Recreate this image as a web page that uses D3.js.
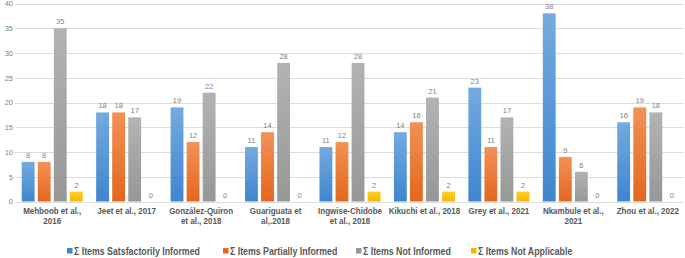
<!DOCTYPE html>
<html><head><meta charset="utf-8">
<script src="https://cdn.jsdelivr.net/npm/d3@7"></script>
<style>body{margin:0;background:#fff}svg{display:block}</style>
</head><body>
<svg id="c" width="685" height="258"></svg>
<script>
const categories = [["Mehboob et al.,","2016"],["Jeet et al., 2017"],["González-Quiron","et al., 2018"],["Guariguata et","al,.2018"],["Ingwise-Chidobe","et al., 2018"],["Kikuchi et al., 2018"],["Grey et al., 2021"],["Nkambule et al.,","2021"],["Zhou et al., 2022"]];
const seriesNames = ["Σ Items Satsfactorily Informed","Σ Items Partially Informed","Σ Items Not Informed","Σ Items Not Applicable"];
const satisfactory = [8,18,19,11,11,14,23,38,16];
const partial = [8,18,12,14,12,16,11,9,19];
const notInformed = [35,17,22,28,28,21,17,6,18];
const notApplicable = [2,0,0,0,2,2,2,0,0];
const yTicks = [0,5,10,15,20,25,30,35,40];
const colors = [["#74aadf","#3f86cf"],["#f39156","#e3671c"],["#b3b3b3","#979797"],["#ffcd2a","#f5b800"]];

const series = [satisfactory, partial, notInformed, notApplicable];
const svg = d3.select("#c");
const font = "'Liberation Sans', Arial, sans-serif";

const defs = svg.append("defs");
colors.forEach((c,i)=>{
  const g = defs.append("linearGradient").attr("id","g"+i).attr("x1",0).attr("y1",0).attr("x2",0).attr("y2",1);
  g.append("stop").attr("offset","0%").attr("stop-color",c[0]);
  g.append("stop").attr("offset","100%").attr("stop-color",c[1]);
});

const y = d3.scaleLinear().domain([0,40]).range([201.5,3.5]);
const x0 = d3.scaleBand().domain(d3.range(categories.length)).range([15,685]).paddingInner(0.18).paddingOuter(0.09);
const x1 = d3.scaleBand().domain(d3.range(4)).range([0,x0.bandwidth()]).paddingInner(0.2);

svg.append("g").selectAll("line").data(yTicks).join("line")
  .attr("x1",15).attr("x2",684).attr("y1",d=>Math.round(y(d))+0.5).attr("y2",d=>Math.round(y(d))+0.5)
  .attr("stroke","#dcdcdc").attr("stroke-width",1);

const yAxis = svg.append("g").attr("transform","translate(13,0)")
  .call(d3.axisLeft(y).tickValues(yTicks).tickSize(0).tickPadding(0));
yAxis.select(".domain").remove();
yAxis.selectAll("text").attr("font-family",font).attr("font-size",7.5).attr("fill","#7f7f7f");

const groups = svg.append("g").selectAll("g").data(categories).join("g")
  .attr("transform",(d,i)=>`translate(${x0(i)},0)`);

groups.each(function(cat,ci){
  const g = d3.select(this);
  series.forEach((s,si)=>{
    const v = s[ci];
    if(v>0){
      g.append("rect").attr("x",x1(si)).attr("width",x1.bandwidth())
        .attr("y",y(v)).attr("height",y(0)-y(v)).attr("fill",`url(#g${si})`);
    }
    g.append("text").attr("x",x1(si)+x1.bandwidth()/2).attr("y",y(v)-4)
      .attr("text-anchor","middle").attr("font-family",font).attr("font-size",7.5)
      .attr("fill","#7f7f7f").text(v);
  });
  const t = g.append("g").attr("transform",`translate(${x0.bandwidth()/2},214) scale(0.89,1)`)
    .append("text").attr("text-anchor","middle").attr("font-family",font).attr("font-size",9)
    .attr("font-weight","bold").attr("fill","#595959");
  cat.forEach((line,li)=>{
    t.append("tspan").attr("x",0).attr("y",li*10.5).text(line);
  });
});

const legX = [67,223,356,471];
const leg = svg.append("g").selectAll("g").data(seriesNames).join("g")
  .attr("transform",(d,i)=>`translate(${legX[i]},251)`);
leg.append("rect").attr("x",0).attr("y",-3).attr("width",5.5).attr("height",5.5).attr("fill",(d,i)=>colors[i][1]);
leg.append("g").attr("transform","translate(7,3.5) scale(0.88,1)")
  .append("text").attr("font-family",font).attr("font-size",10)
  .attr("font-weight","bold").attr("fill","#595959").text(d=>d);
</script>
</body></html>
